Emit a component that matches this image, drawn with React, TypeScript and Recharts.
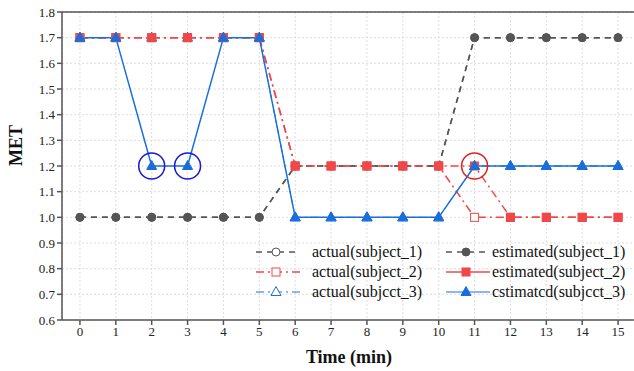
import { LineChart, Line, XAxis, YAxis, CartesianGrid, ReferenceDot, ReferenceLine } from "recharts"

const times = [0, 1, 2, 3, 4, 5, 6, 7, 8, 9, 10, 11, 12, 13, 14, 15]
const actual1 = [1.0, 1.0, 1.0, 1.0, 1.0, 1.0, 1.2, 1.2, 1.2, 1.2, 1.2, 1.7, 1.7, 1.7, 1.7, 1.7]
const estimated1 = [1.0, 1.0, 1.0, 1.0, 1.0, 1.0, 1.2, 1.2, 1.2, 1.2, 1.2, 1.7, 1.7, 1.7, 1.7, 1.7]
const actual2 = [1.7, 1.7, 1.7, 1.7, 1.7, 1.7, 1.2, 1.2, 1.2, 1.2, 1.2, 1.0, 1.0, 1.0, 1.0, 1.0]
const estimated2 = [1.7, 1.7, 1.7, 1.7, 1.7, 1.7, 1.2, 1.2, 1.2, 1.2, 1.2, 1.2, 1.0, 1.0, 1.0, 1.0]
const actual3 = [1.7, 1.7, 1.7, 1.7, 1.7, 1.7, 1.0, 1.0, 1.0, 1.0, 1.0, 1.2, 1.2, 1.2, 1.2, 1.2]
const estimated3 = [1.7, 1.7, 1.2, 1.2, 1.7, 1.7, 1.0, 1.0, 1.0, 1.0, 1.0, 1.2, 1.2, 1.2, 1.2, 1.2]
const yTicks = [0.6, 0.7, 0.8, 0.9, 1.0, 1.1, 1.2, 1.3, 1.4, 1.5, 1.6, 1.7, 1.8]
const blueCircles = [2, 3]
const redCircles = [11]

const data = times.map((t, i) => ({
  t,
  a1: actual1[i],
  e1: estimated1[i],
  a2: actual2[i],
  e2: estimated2[i],
  a3: actual3[i],
  e3: estimated3[i],
}))

const GRAY = "#555555"
const RED = "#f04848"
const BLUE = "#1a6edb"
const FONT = "Liberation Serif"

function marker(shape: string, color: string, filled: boolean, cx: number, cy: number, key?: any) {
  const fill = filled ? color : "#fff"
  if (shape === "circle") return <circle key={key} cx={cx} cy={cy} r={4} fill={fill} stroke={color} strokeWidth={1} />
  if (shape === "square") return <rect key={key} x={cx - 4} y={cy - 4} width={8} height={8} fill={fill} stroke={color} strokeWidth={1} />
  return <polygon key={key} points={`${cx},${cy - 5.5} ${cx + 5},${cy + 3.5} ${cx - 5},${cy + 3.5}`} fill={fill} stroke={color} strokeWidth={1} />
}

const dotFn = (shape: string, color: string, filled: boolean) => (p: any) =>
  marker(shape, color, filled, p.cx, p.cy, `${shape}-${filled}-${p.index}`)

const legendItems = [
  { label: "actual(subject_1)", color: GRAY, dash: "6 5", shape: "circle", filled: false, w: 1.5 },
  { label: "estimated(subject_1)", color: GRAY, dash: "6 5", shape: "circle", filled: true, w: 1.5 },
  { label: "actual(subject_2)", color: RED, dash: "8 4 2 4", shape: "square", filled: false, w: 1.5 },
  { label: "estimated(subject_2)", color: RED, dash: "", shape: "square", filled: true, w: 1.5 },
  { label: "actual(subjcct_3)", color: BLUE, dash: "8 4 2 4", shape: "triangle", filled: false, w: 1 },
  { label: "cstimatcd(subjcct_3)", color: BLUE, dash: "", shape: "triangle", filled: true, w: 1 },
]

function LegendBox() {
  return (
    <div
      style={{
        position: "absolute",
        left: 256,
        top: 242,
        display: "grid",
        gridTemplateColumns: "190px 180px",
        fontFamily: FONT,
        fontSize: 16,
        color: "#111",
        lineHeight: "20px",
      }}
    >
      {legendItems.map((it, i) => (
        <div key={it.label} style={{ display: "flex", alignItems: "center", height: 20 }}>
          <svg width={44} height={12} style={{ marginRight: i % 2 === 0 ? 12 : 2 }}>
            <line x1={0} y1={6} x2={44} y2={6} stroke={it.color} strokeWidth={it.w} strokeDasharray={it.dash} />
            {marker(it.shape, it.color, it.filled, 20, 6)}
          </svg>
          <span>{it.label}</span>
        </div>
      ))}
    </div>
  )
}

export default function App() {
  return (
    <div style={{ position: "absolute", left: 0, top: 0, width: 634, height: 371, background: "#fff", overflow: "hidden", fontFamily: FONT }}>
      <LineChart width={642} height={371} data={data} margin={{ top: 12, right: 6, bottom: 0, left: 0 }}>
        <CartesianGrid stroke="#dddddd" strokeDasharray="2 2" />
        <XAxis
          dataKey="t"
          type="number"
          domain={[-0.5, 15.5]}
          ticks={times}
          interval={0}
          height={51}
          tickSize={5}
          stroke={GRAY}
          strokeWidth={1.5}
          tick={{ fill: "#222", fontSize: 13, fontFamily: FONT }}
          label={{ value: "Time (min)", position: "insideBottom", offset: 8, fill: "#111", fontSize: 18, fontWeight: "bold", fontFamily: FONT }}
        />
        <YAxis
          type="number"
          domain={[0.6, 1.8]}
          ticks={yTicks}
          interval={0}
          width={62}
          tickSize={5}
          stroke={GRAY}
          strokeWidth={1.5}
          tickFormatter={(v: number) => v.toFixed(1)}
          tick={{ fill: "#222", fontSize: 13, fontFamily: FONT }}
          label={{ value: "MET", angle: -90, position: "insideLeft", offset: 16, fill: "#111", fontSize: 18, fontWeight: "bold", fontFamily: FONT }}
        />
        <ReferenceLine y={1.8} stroke={GRAY} strokeWidth={1.5} />
        <ReferenceLine x={15.5} stroke={GRAY} strokeWidth={1.5} />
        <Line dataKey="a1" stroke={GRAY} strokeWidth={1.5} strokeDasharray="6 5" dot={dotFn("circle", GRAY, false)} isAnimationActive={false} />
        <Line dataKey="a2" stroke={RED} strokeWidth={1.5} strokeDasharray="8 4 2 4" dot={dotFn("square", RED, false)} isAnimationActive={false} />
        <Line dataKey="a3" stroke={BLUE} strokeWidth={1} strokeDasharray="8 4 2 4" dot={dotFn("triangle", BLUE, false)} isAnimationActive={false} />
        <Line dataKey="e1" stroke={GRAY} strokeWidth={1.5} strokeDasharray="6 5" dot={dotFn("circle", GRAY, true)} isAnimationActive={false} />
        <Line dataKey="e2" stroke={RED} strokeWidth={1.5} strokeDasharray="8 4 2 4" dot={dotFn("square", RED, true)} isAnimationActive={false} />
        <Line dataKey="e3" stroke={BLUE} strokeWidth={1.5} dot={dotFn("triangle", BLUE, true)} isAnimationActive={false} />
        {blueCircles.map((t) => (
          <ReferenceDot key={`b${t}`} x={t} y={estimated3[t]} r={13} fill="none" stroke="#1a1ad0" strokeWidth={1.5} />
        ))}
        {redCircles.map((t) => (
          <ReferenceDot key={`r${t}`} x={t} y={estimated2[t]} r={13} fill="none" stroke="#e02020" strokeWidth={1.5} />
        ))}
      </LineChart>
      <LegendBox />
    </div>
  )
}
